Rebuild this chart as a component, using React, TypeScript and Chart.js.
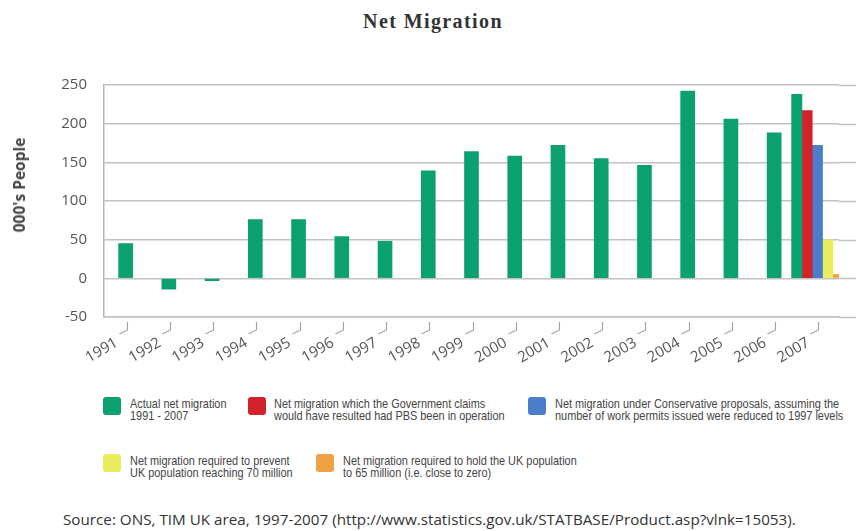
import React, { useEffect, useRef } from 'react';
import { Chart, registerables } from 'chart.js';

Chart.register(...registerables);

// ---- data ----
const years = ['1991', '1992', '1993', '1994', '1995', '1996', '1997', '1998', '1999', '2000', '2001', '2002', '2003', '2004', '2005', '2006', '2007'];
const actualNet = [45, -14, -3, 76, 76, 54, 48, 139, 164, 158, 172, 155, 146, 242, 206, 188, 238];
const govClaimed2007 = [217];
const conservative2007 = [172];
const prevent70m2007 = [50];
const hold65m2007 = [5];
const yTicks = [-50, 0, 50, 100, 150, 200, 250];

const GREEN = '#0ba070';
const RED = '#d2232a';
const BLUE = '#4c7dcb';
const YELLOW = '#e9ec5c';
const ORANGE = '#f0a142';
const GRID = '#c2c2c2';

const W = 856;
const CH = 380;

const lastIdx = years.length - 1;
const onlyLast = (v: number[]) => years.map((_, i) => (i === lastIdx ? v[0] : null));
const allButLast = (v: number[]) => v.map((x, i) => (i === lastIdx ? null : x));
const onlyLastOf = (v: number[]) => v.map((x, i) => (i === lastIdx ? x : null));

const legendItems = [
  { color: GREEN, lines: ['Actual net migration', '1991 - 2007'], sq: [103, 397], tx: 130 },
  { color: RED, lines: ['Net migration which the Government claims', 'would have resulted had PBS been in operation'], sq: [248, 397], tx: 274 },
  { color: BLUE, lines: ['Net migration under Conservative proposals, assuming the', 'number of work permits issued were reduced to 1997 levels'], sq: [528, 397], tx: 555 },
  { color: YELLOW, lines: ['Net migration required to prevent', 'UK population reaching 70 million'], sq: [103, 454], tx: 130 },
  { color: ORANGE, lines: ['Net migration required to hold the UK population', 'to 65 million (i.e. close to zero)'], sq: [316, 454], tx: 343 },
];

const decorPlugin = {
  id: 'decor',
  beforeDatasetsDraw(chart: any) {
    const { ctx, chartArea, scales } = chart;
    const x = scales.x;
    const y = scales.y;
    ctx.save();
    ctx.strokeStyle = GRID;
    ctx.lineWidth = 1.5;
    y.ticks.forEach((_: any, i: number) => {
      const py = Math.round(y.getPixelForTick(i)) + 0.5;
      ctx.beginPath();
      ctx.moveTo(chartArea.right, py);
      ctx.lineTo(chart.width, py);
      ctx.stroke();
    });
    ctx.strokeStyle = '#a0a0a0';
    ctx.lineWidth = 1.1;
    const b = chartArea.bottom;
    x.ticks.forEach((_: any, i: number) => {
      const px = Math.round(x.getPixelForTick(i)) + 1.5;
      ctx.beginPath();
      ctx.moveTo(px, b + 5);
      ctx.lineTo(px, b + 13);
      ctx.lineTo(px - 8, b + 17);
      ctx.stroke();
    });
    ctx.restore();
  },
};

function NetMigrationChart() {
  const ref = useRef<HTMLCanvasElement | null>(null);
  useEffect(() => {
    if (!ref.current) return;
    const common = { skipNull: true, borderWidth: 0 };
    const chart = new Chart(ref.current, {
      type: 'bar',
      data: {
        labels: years,
        datasets: [
          { ...common, label: 'Actual net migration 1991 - 2007', data: allButLast(actualNet), backgroundColor: GREEN, barThickness: 14 },
          { ...common, label: 'Actual 2007', data: onlyLastOf(actualNet), backgroundColor: GREEN, barThickness: 10.3 },
          { ...common, label: 'Government claim', data: onlyLast(govClaimed2007), backgroundColor: RED, barThickness: 10.3 },
          { ...common, label: 'Conservative proposals', data: onlyLast(conservative2007), backgroundColor: BLUE, barThickness: 10.3 },
          { ...common, label: 'Prevent 70 million', data: onlyLast(prevent70m2007), backgroundColor: YELLOW, barThickness: 10.3 },
          { ...common, label: 'Hold 65 million', data: onlyLast(hold65m2007), backgroundColor: ORANGE, barThickness: 10.3 },
        ] as any,
      },
      options: {
        animation: false,
        responsive: false,
        layout: { padding: { top: 85, right: 17, left: 0, bottom: 0 } },
        plugins: {
          legend: { display: false },
          title: { display: false },
          tooltip: { enabled: false },
        },
        scales: {
          x: {
            offset: true,
            grid: { display: false },
            border: { display: true, color: GRID, width: 1.5 },
            ticks: {
              autoSkip: false,
              minRotation: 30,
              maxRotation: 30,
              padding: 9,
              labelOffset: -9,
              color: '#555',
              font: { family: 'Open Sans', size: 15 },
            },
            afterFit: (s: any) => {
              s.height = CH - 317;
            },
          },
          y: {
            min: -50,
            max: 250,
            afterBuildTicks: (s: any) => {
              s.ticks = yTicks.map((v) => ({ value: v }));
            },
            grid: { color: GRID, lineWidth: 1.5, drawTicks: false },
            border: { display: true, color: '#b5b5b5', width: 1.5 },
            ticks: {
              padding: 17,
              color: '#555',
              font: { family: 'Open Sans', size: 15 },
            },
            afterFit: (s: any) => {
              s.width = 104;
            },
          },
        },
      } as any,
      plugins: [decorPlugin],
    });
    return () => chart.destroy();
  }, []);
  return <canvas ref={ref} width={W} height={CH} style={{ position: 'absolute', left: 0, top: 0, width: W, height: CH }} />;
}

export default function App() {
  const legendFont = "'Liberation Sans', Arial, sans-serif";
  return (
    <div style={{ position: 'absolute', left: 0, top: 0, width: W, height: 531, background: '#fff', overflow: 'hidden' }}>
      <div
        style={{
          position: 'absolute',
          left: 5,
          top: 10,
          width: W,
          textAlign: 'center',
          fontFamily: "'Liberation Serif', serif",
          fontWeight: 'bold',
          fontSize: 20,
          letterSpacing: 1.4,
          lineHeight: '22px',
          color: '#333',
        }}
      >
        Net Migration
      </div>
      <NetMigrationChart />
      <div
        style={{
          position: 'absolute',
          left: 19,
          top: 185,
          transform: 'translate(-50%, -50%) rotate(-90deg)',
          whiteSpace: 'nowrap',
          fontFamily: "'Open Sans', sans-serif",
          fontWeight: 'bold',
          fontSize: 15.5,
          color: '#444',
        }}
      >
        000's People
      </div>
      {legendItems.map((it, i) => (
        <React.Fragment key={i}>
          <div
            style={{
              position: 'absolute',
              left: it.sq[0],
              top: it.sq[1],
              width: 18,
              height: 18,
              borderRadius: 3,
              background: it.color,
            }}
          />
          <div
            style={{
              position: 'absolute',
              left: it.tx,
              top: it.sq[1] + 1,
              whiteSpace: 'nowrap',
              fontFamily: legendFont,
              fontSize: 13,
              lineHeight: '12px',
              color: '#444',
              transform: 'scaleX(0.84)',
              transformOrigin: '0 0',
            }}
          >
            {it.lines.map((l, j) => (
              <div key={j}>{l}</div>
            ))}
          </div>
        </React.Fragment>
      ))}
      <div
        style={{
          position: 'absolute',
          left: 63,
          top: 511,
          whiteSpace: 'nowrap',
          fontFamily: "'Open Sans', sans-serif",
          fontSize: 15,
          lineHeight: '17px',
          color: '#333',
          transform: 'scaleX(1.015)',
          transformOrigin: '0 0',
        }}
      >
        Source: ONS, TIM UK area, 1997-2007 (http://www.statistics.gov.uk/STATBASE/Product.asp?vlnk=15053).
      </div>
    </div>
  );
}
